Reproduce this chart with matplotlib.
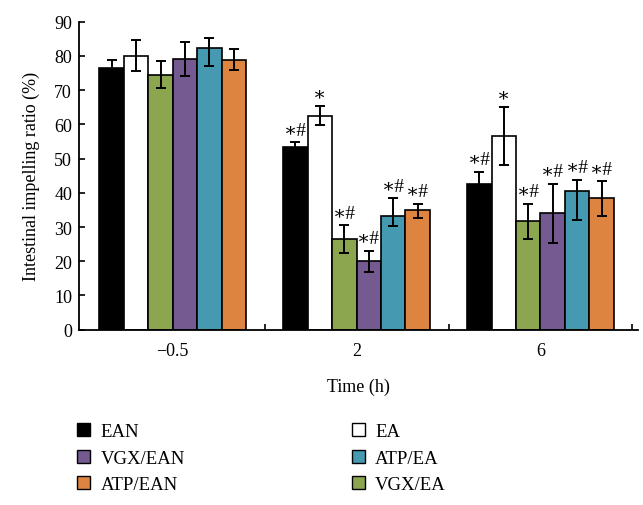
import matplotlib.pyplot as plt
import numpy as np
from matplotlib.patches import Patch

plt.rcParams['font.family'] = ['Liberation Serif', 'DejaVu Serif']

# data
times = ['\u22120.5', '2', '6']
groups = ['EAN', 'EA', 'VGX/EA', 'VGX/EAN', 'ATP/EA', 'ATP/EAN']
colors = ['#000000', '#ffffff', '#8ba64f', '#745a91', '#4599b1', '#dd8540']

ean = [76.6, 53.5, 42.5]
ea = [80.1, 62.5, 56.7]
vgx_ea = [74.5, 26.5, 31.7]
vgx_ean = [79.1, 20.0, 34.0]
atp_ea = [82.3, 33.3, 40.5]
atp_ean = [78.9, 34.9, 38.4]

# upper / lower error lengths
ean_up = [2.2, 1.3, 3.7]
ean_lo = [2.2, 1.3, 3.7]
ea_up = [4.6, 2.8, 8.3]
ea_lo = [4.4, 2.7, 8.5]
vgx_ea_up = [3.9, 4.1, 5.1]
vgx_ea_lo = [3.8, 4.1, 5.2]
vgx_ean_up = [5.0, 3.1, 8.7]
vgx_ean_lo = [5.1, 3.1, 8.7]
atp_ea_up = [2.8, 5.1, 3.3]
atp_ea_lo = [5.2, 3.1, 8.4]
atp_ean_up = [3.1, 1.9, 5.0]
atp_ean_lo = [3.0, 2.2, 5.1]

marks_ean = ['', '\u2217#', '\u2217#']
marks_ea = ['', '\u2217', '\u2217']
marks_vgx_ea = ['', '\u2217#', '\u2217#']
marks_vgx_ean = ['', '\u2217#', '\u2217#']
marks_atp_ea = ['', '\u2217#', '\u2217#']
marks_atp_ean = ['', '\u2217#', '\u2217#']

values = [ean, ea, vgx_ea, vgx_ean, atp_ea, atp_ean]
err_up = [ean_up, ea_up, vgx_ea_up, vgx_ean_up, atp_ea_up, atp_ean_up]
err_lo = [ean_lo, ea_lo, vgx_ea_lo, vgx_ean_lo, atp_ea_lo, atp_ean_lo]
marks = [marks_ean, marks_ea, marks_vgx_ea, marks_vgx_ean, marks_atp_ea, marks_atp_ean]

fig = plt.figure(figsize=(6.43, 5.06), dpi=100)
ax = fig.add_axes([0.1229, 0.3464, 0.8691, 0.6087])

centers = np.arange(len(times)) + 0.5
w = 0.133
handles = {}
for i, name in enumerate(groups):
    x = centers + (i - 2.5) * w
    ax.bar(x, values[i], w, color=colors[i], edgecolor='black', linewidth=1.2, zorder=2)
    ax.errorbar(x, values[i], yerr=[err_lo[i], err_up[i]], fmt='none', ecolor='black',
                elinewidth=1.4, capsize=3.5, capthick=1.4, zorder=3)
    for xx, v, e, m in zip(x, values[i], err_up[i], marks[i]):
        if m:
            ax.text(xx, v + e + 1.0, m, ha='center', va='bottom', fontsize=14)
    handles[name] = Patch(facecolor=colors[i], edgecolor='black', linewidth=1.0)

ax.set_xlim(-0.01, 3.03)
ax.set_ylim(0, 90)
ax.set_yticks(np.arange(0, 91, 10))
ax.set_xticks(centers, times)
ax.set_xticks([1, 2, 3], minor=True)
ax.tick_params(axis='x', which='major', length=0, labelsize=13, pad=9)
ax.tick_params(axis='x', which='minor', direction='in', length=4, width=1.2)
ax.tick_params(axis='y', direction='in', length=4, width=1.2, labelsize=13, pad=5)
for s in ['top', 'right']:
    ax.spines[s].set_visible(False)
for s in ['left', 'bottom']:
    ax.spines[s].set_linewidth(1.3)

ax.set_ylabel('Intestinal impelling ratio (%)', fontsize=13, labelpad=10)
ax.set_xlabel('Time (h)', fontsize=13, labelpad=13)

order = ['EAN', 'VGX/EAN', 'ATP/EAN', 'EA', 'ATP/EA', 'VGX/EA']
fig.legend([handles[n] for n in order], order, ncol=2, frameon=False,
           loc='upper left', bbox_to_anchor=(0.105, 0.18), borderpad=0,
           fontsize=13.5, handlelength=0.7, handleheight=0.7, handletextpad=0.55,
           columnspacing=8.9, labelspacing=0.5)

fig.savefig('out.png', dpi=100)
